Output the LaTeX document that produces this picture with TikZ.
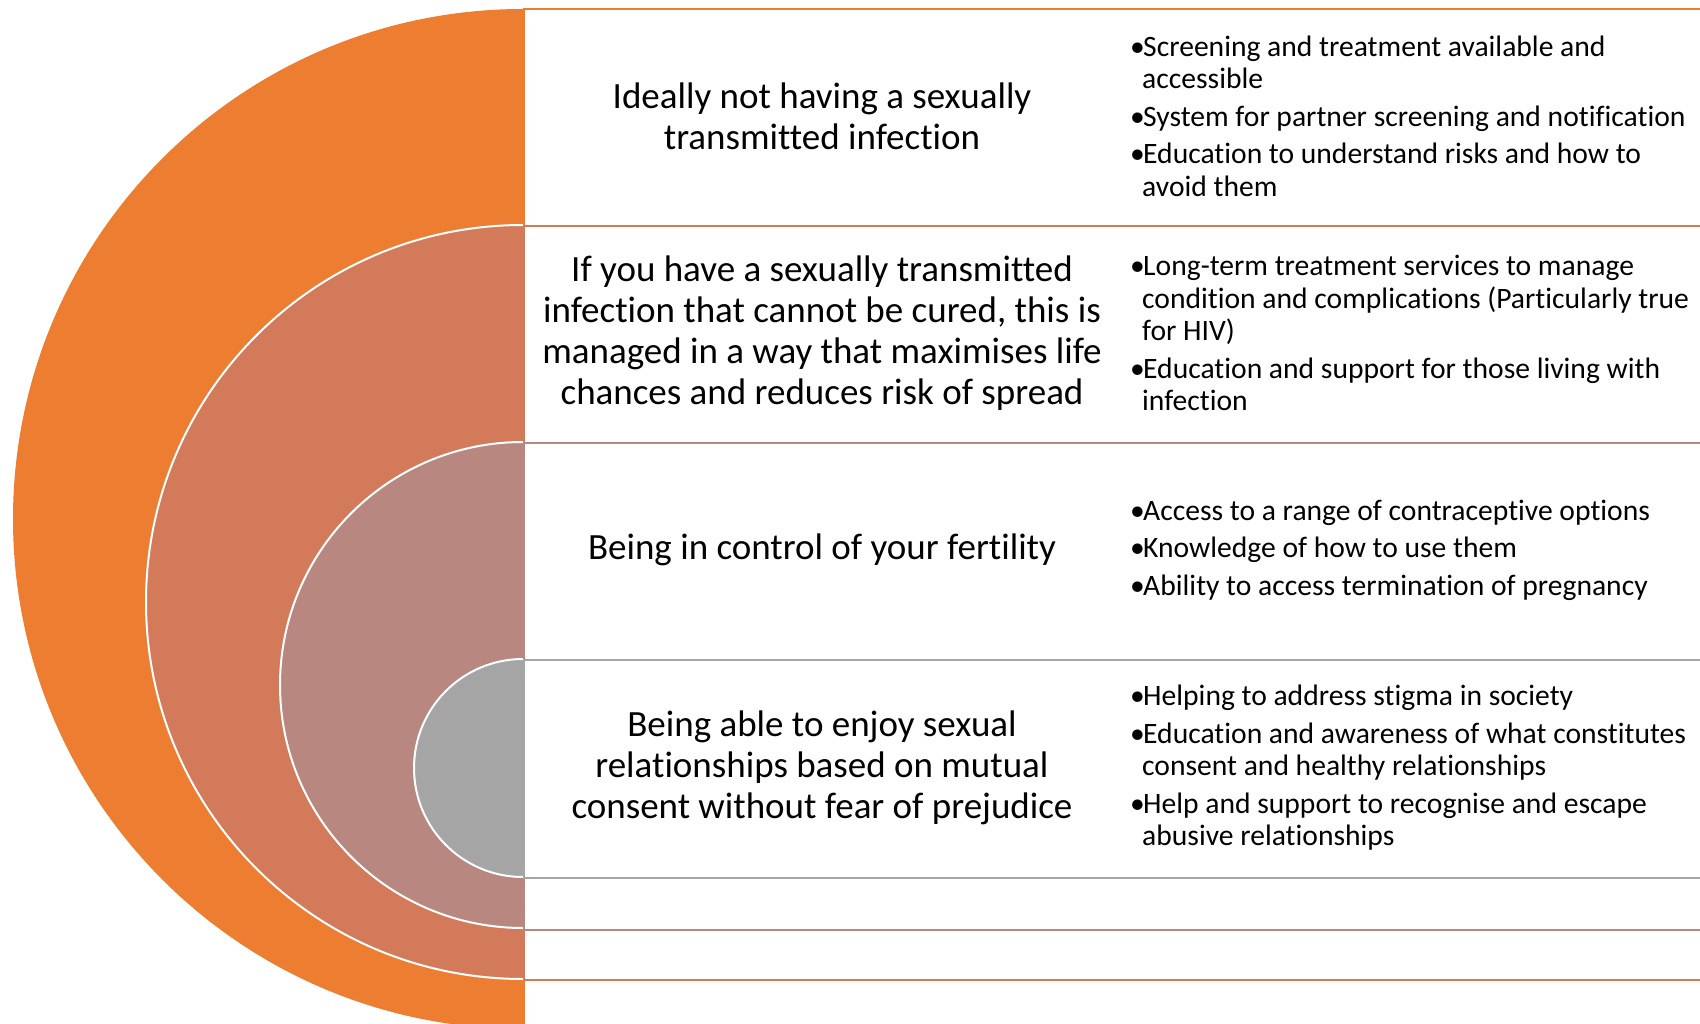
\documentclass[tikz,border=0pt]{standalone}
\usepackage{fontspec}
\setmainfont{Carlito}[RawFeature={-liga;-clig;-dlig;-rlig;-calt}]
\definecolor{cOrange}{HTML}{ED7D31}
\definecolor{cCoral}{HTML}{D27A5A}
\definecolor{cMauve}{HTML}{B88880}
\definecolor{cGray}{HTML}{A5A5A5}
\newcommand{\bul}{\makebox[13pt][l]{•}}
\newcommand{\ind}{\hspace*{12pt}}
\tikzset{
  boxframe/.style={draw=#1, line width=2pt, fill=white, anchor=north west, inner sep=0pt},
  maintext/.style={align=center, inner sep=0pt, font=\fontsize{37}{41}\selectfont},
  bullettext/.style={align=left, inner sep=0pt, anchor=west, font=\fontsize{29.6}{32.5}\selectfont},
}
\begin{document}
\begin{tikzpicture}[x=1pt,y=1pt]
\useasboundingbox (0,0) rectangle (1700,-1024);
\clip (0,0) rectangle (1700,-1024);
% half discs
\fill[cOrange] (523,-9) arc[start angle=90, end angle=270, radius=510] -- cycle;
\fill[cCoral] (523,-225) arc[start angle=90, end angle=270, radius=377] -- cycle;
\draw[white, line width=2pt] (523,-225) arc[start angle=90, end angle=270, radius=377];
\fill[cMauve] (523,-442) arc[start angle=90, end angle=270, radius=243] -- cycle;
\draw[white, line width=2pt] (523,-442) arc[start angle=90, end angle=270, radius=243];
\fill[cGray] (523,-659) arc[start angle=90, end angle=270, radius=109] -- cycle;
\draw[white, line width=2pt] (523,-659) arc[start angle=90, end angle=270, radius=109];
% boxes
\node[boxframe=cOrange, minimum width=1200pt, minimum height=1021pt] (box1) at (523,-8) {};
\node[boxframe=cCoral, minimum width=1200pt, minimum height=754pt] (box2) at (523,-225) {};
\node[boxframe=cMauve, minimum width=1200pt, minimum height=487pt] (box3) at (523,-442) {};
\node[boxframe=cGray, minimum width=1200pt, minimum height=218pt] (box4) at (523,-659) {};
% main texts
\node[maintext] (t1) at (822,-116) {Ideally not having a sexually\\transmitted infection};
\node[maintext] (t2) at (822,-333) {If you have a sexually transmitted\\infection that cannot be cured, this is\\managed in a way that maximises life\\chances and reduces risk of spread};
\node[maintext] (t3) at (822,-550) {Being in control of your fertility};
\node[maintext] (t4) at (822,-768) {Being able to enjoy sexual\\relationships based on mutual\\consent without fear of prejudice};
% bullet texts
\node[bullettext] (b1) at (1130,-116) {\bul Screening and treatment available and\\\ind accessible\\[5pt]\bul System for partner screening and notification\\[5pt]\bul Education to understand risks and how to\\\ind avoid them};
\node[bullettext] (b2) at (1130,-333) {\bul Long-term treatment services to manage\\\ind condition and complications (Particularly true\\\ind for HIV)\\[5pt]\bul Education and support for those living with\\\ind infection};
\node[bullettext] (b3) at (1130,-550) {\bul Access to a range of contraceptive options\\[5pt]\bul Knowledge of how to use them\\[5pt]\bul Ability to access termination of pregnancy};
\node[bullettext] (b4) at (1130,-768) {\bul Helping to address stigma in society\\[5pt]\bul Education and awareness of what constitutes\\\ind consent and healthy relationships\\[5pt]\bul Help and support to recognise and escape\\\ind abusive relationships};
\end{tikzpicture}
\end{document}
